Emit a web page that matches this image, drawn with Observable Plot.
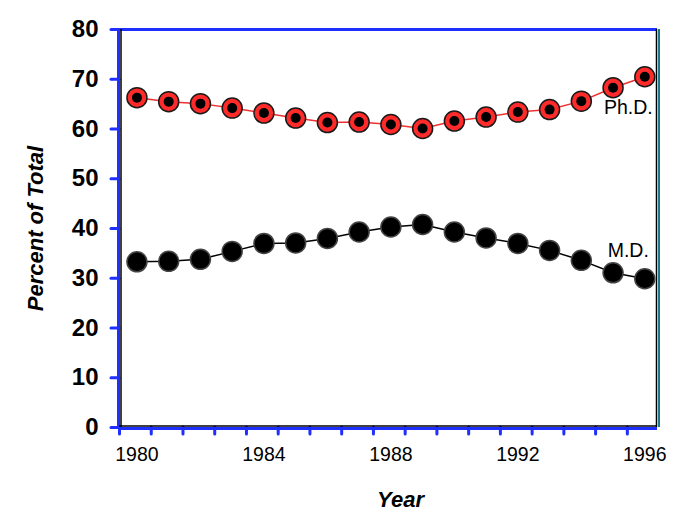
<!DOCTYPE html>
<html>
<head>
<meta charset="utf-8">
<script src="https://cdn.jsdelivr.net/npm/d3@7"></script>
<script src="https://cdn.jsdelivr.net/npm/@observablehq/plot@0.6"></script>
<style>
  html, body { margin: 0; padding: 0; background: #fff; }
  #chart svg { display: block; }
</style>
</head>
<body>
<div id="chart"></div>
<script>
const years = [1980,1981,1982,1983,1984,1985,1986,1987,1988,1989,1990,1991,1992,1993,1994,1995,1996];
const phd = [66.3,65.5,65.1,64.2,63.2,62.2,61.3,61.4,60.9,60.1,61.6,62.4,63.4,63.9,65.6,68.3,70.5];
const md  = [33.3,33.4,33.8,35.4,37.0,37.1,38.0,39.3,40.3,40.8,39.3,38.1,37.0,35.6,33.6,31.1,29.9];
const xTickLabels = [1980,1984,1988,1992,1996];
const yTicks = [0,10,20,30,40,50,60,70,80];
const seriesNames = ["Ph.D.", "M.D."];

const xDomain = [1979.45, 1996.4];
const minorTicks = d3.range(0, 17).map(k => xDomain[0] + k);

const phdData = years.map((y, i) => ({year: y, value: phd[i]}));
const mdData = years.map((y, i) => ({year: y, value: md[i]}));
const blue = "#1f2fff";
const font = "Liberation Sans, Arial, Helvetica, sans-serif";

const chart = Plot.plot({
  width: 681,
  height: 528,
  marginLeft: 119,
  marginRight: 24,
  marginTop: 29,
  marginBottom: 101,
  style: {fontFamily: font, background: "#fff", color: "#000"},
  x: {domain: xDomain},
  y: {domain: [0, 80]},
  marks: [
    // frame lines
    Plot.ruleY([80], {stroke: blue, strokeWidth: 3}),
    Plot.ruleX([xDomain[1]], {stroke: "#000", strokeWidth: 1.5, dx: -1}),
    Plot.ruleX([xDomain[1]], {stroke: "#1a7a8a", strokeWidth: 2, dx: 1.5}),
    // x minor ticks
    Plot.axisX({ticks: minorTicks, tickFormat: () => "", tickSize: 7, stroke: blue, strokeWidth: 3, strokeLinecap: "round", label: null}),
    Plot.axisX({ticks: xTickLabels, tickFormat: d => String(d), tickSize: 0, tickPadding: 20, fontSize: 19.5, label: null}),
    // y axis ticks and labels
    Plot.axisY({ticks: yTicks, tickSize: 8, tickPadding: 13, stroke: blue, strokeWidth: 3, strokeLinecap: "round", fontSize: 24, fontWeight: "bold", label: null}),
    Plot.ruleX([xDomain[0]], {stroke: blue, strokeWidth: 3, dx: -1}),
    Plot.ruleX([xDomain[0]], {stroke: "#000", strokeWidth: 1.5, dx: 1.5}),
    Plot.ruleY([0], {stroke: blue, strokeWidth: 3, dy: 1}),
    Plot.ruleY([0], {stroke: "#000", strokeWidth: 1.5, dy: -1.5}),
    // lines
    Plot.line(phdData, {x: "year", y: "value", stroke: "#f03030", strokeWidth: 1.5}),
    Plot.line(mdData, {x: "year", y: "value", stroke: "#000", strokeWidth: 1.5}),
    // points
    Plot.dot(phdData, {x: "year", y: "value", r: 10, fill: "#ff2a2a", stroke: "#1a1a1a", strokeWidth: 1.5}),
    Plot.dot(phdData, {x: "year", y: "value", r: 5, fill: "#000"}),
    Plot.dot(mdData, {x: "year", y: "value", r: 10, fill: "#000", stroke: "#444", strokeWidth: 1.5}),
    // series labels
    Plot.text([phdData[phdData.length - 1]], {x: "year", y: "value", text: () => seriesNames[0], textAnchor: "end", dx: 8, dy: 31, fontSize: 19.5, fill: "#000"}),
    Plot.text([mdData[mdData.length - 1]], {x: "year", y: "value", text: () => seriesNames[1], textAnchor: "end", dx: 4, dy: -28, fontSize: 19.5, fill: "#000"}),
    // axis titles
    Plot.text(["Year"], {frameAnchor: "bottom", textAnchor: "middle", dx: 12, dy: 72, lineAnchor: "middle", fontSize: 22, fontWeight: "bold", fontStyle: "italic", fill: "#000"}),
    Plot.text(["Percent of Total"], {frameAnchor: "left", textAnchor: "middle", dx: -84, rotate: -90, lineAnchor: "middle", fontSize: 22, fontWeight: "bold", fontStyle: "italic", fill: "#000"})
  ]
});
document.getElementById("chart").appendChild(chart);
</script>
</body>
</html>
